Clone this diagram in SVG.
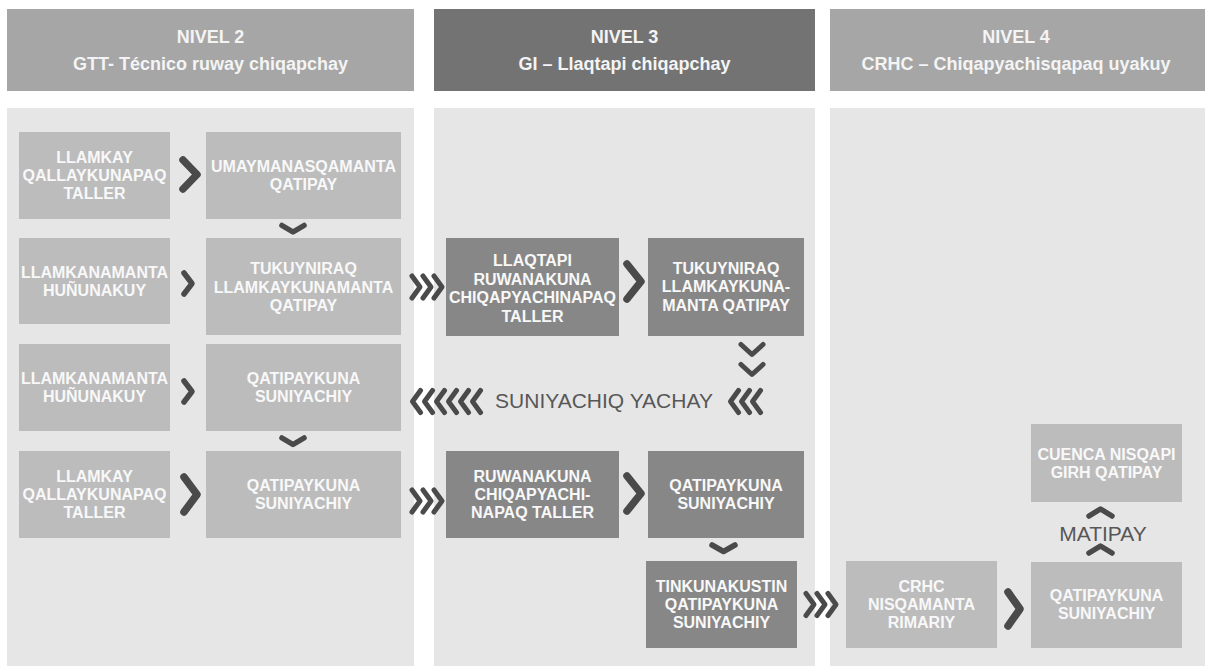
<svg xmlns="http://www.w3.org/2000/svg" width="1205" height="669" viewBox="0 0 1205 669">
<style>
.hdr{fill:#a6a6a6}
.hdr3{fill:#737373}
.pan{fill:#e6e6e6}
.lt{fill:#bcbcbd}
.dk{fill:#878787}
.ht{font-family:"Liberation Sans",Arial,sans-serif;font-weight:bold;font-size:18px;fill:#f4f4f4;text-anchor:middle}
.bt{font-family:"Liberation Sans",Arial,sans-serif;font-weight:bold;font-size:16px;fill:#f8f8f8;text-anchor:middle}
.lab{font-family:"Liberation Sans",Arial,sans-serif;font-size:21px;fill:#575757;text-anchor:middle}
.ch{fill:none;stroke:#4a4a4a;stroke-linecap:round;stroke-linejoin:round}
.s5{stroke-width:5}
.s55{stroke-width:5.5}
.s7{stroke-width:7.5}
</style>
<defs>
<g id="r3" class="ch s5">
<polyline points="0,-11 8,0 0,11"/>
<polyline points="11,-11 19,0 11,11"/>
<polyline points="22,-11 30,0 22,11"/>
</g>
<polyline id="l1" class="ch s5" points="8,-11 0,0 8,11"/>
</defs>

<g id="panels">
<rect class="hdr" x="7" y="9" width="407" height="82"/>
<rect class="hdr3" x="434" y="9" width="381" height="82"/>
<rect class="hdr" x="830" y="9" width="375" height="82"/>
<rect class="pan" x="7" y="108" width="407" height="558"/>
<rect class="pan" x="434" y="108" width="381" height="558"/>
<rect class="pan" x="830" y="108" width="375" height="558"/>
<text class="ht" x="210.5" y="43">NIVEL 2</text>
<text class="ht" x="210.5" y="70">GTT- Técnico ruway chiqapchay</text>
<text class="ht" x="624.5" y="43">NIVEL 3</text>
<text class="ht" x="624.5" y="70">GI – Llaqtapi chiqapchay</text>
<text class="ht" x="1016" y="43">NIVEL 4</text>
<text class="ht" x="1016" y="70">CRHC – Chiqapyachisqapaq uyakuy</text>
</g>

<g id="n1"><rect class="lt" x="19" y="132" width="151" height="87"/>
<text class="bt" x="94.5"><tspan x="94.5" y="163">LLAMKAY</tspan><tspan x="94.5" y="181">QALLAYKUNAPAQ</tspan><tspan x="94.5" y="199">TALLER</tspan></text></g>
<g id="n2"><rect class="lt" x="206" y="132" width="195" height="87"/>
<text class="bt"><tspan x="303.5" y="172">UMAYMANASQAMANTA</tspan><tspan x="303.5" y="190">QATIPAY</tspan></text></g>
<g id="n3"><rect class="lt" x="19" y="238" width="151" height="86"/>
<text class="bt"><tspan x="94.5" y="278">LLAMKANAMANTA</tspan><tspan x="94.5" y="296">HUÑUNAKUY</tspan></text></g>
<g id="n4"><rect class="lt" x="206" y="238" width="195" height="97"/>
<text class="bt"><tspan x="303.5" y="274">TUKUYNIRAQ</tspan><tspan x="303.5" y="292.5">LLAMKAYKUNAMANTA</tspan><tspan x="303.5" y="311">QATIPAY</tspan></text></g>
<g id="n5"><rect class="lt" x="19" y="344" width="151" height="87"/>
<text class="bt"><tspan x="94.5" y="384">LLAMKANAMANTA</tspan><tspan x="94.5" y="402">HUÑUNAKUY</tspan></text></g>
<g id="n6"><rect class="lt" x="206" y="344" width="195" height="87"/>
<text class="bt"><tspan x="303.5" y="384">QATIPAYKUNA</tspan><tspan x="303.5" y="402">SUNIYACHIY</tspan></text></g>
<g id="n7"><rect class="lt" x="19" y="451" width="151" height="87"/>
<text class="bt"><tspan x="94.5" y="482">LLAMKAY</tspan><tspan x="94.5" y="500">QALLAYKUNAPAQ</tspan><tspan x="94.5" y="518">TALLER</tspan></text></g>
<g id="n8"><rect class="lt" x="206" y="451" width="195" height="87"/>
<text class="bt"><tspan x="303.5" y="491">QATIPAYKUNA</tspan><tspan x="303.5" y="509">SUNIYACHIY</tspan></text></g>

<g id="n9"><rect class="dk" x="446" y="238" width="173" height="98"/>
<text class="bt"><tspan x="532.5" y="266">LLAQTAPI</tspan><tspan x="532.5" y="284.5">RUWANAKUNA</tspan><tspan x="532.5" y="303">CHIQAPYACHINAPAQ</tspan><tspan x="532.5" y="321.5">TALLER</tspan></text></g>
<g id="n10"><rect class="dk" x="648" y="238" width="156" height="98"/>
<text class="bt"><tspan x="726" y="273.5">TUKUYNIRAQ</tspan><tspan x="726" y="292">LLAMKAYKUNA-</tspan><tspan x="726" y="310.5">MANTA QATIPAY</tspan></text></g>
<g id="n11"><rect class="dk" x="446" y="451" width="173" height="87"/>
<text class="bt"><tspan x="532.5" y="482">RUWANAKUNA</tspan><tspan x="532.5" y="500">CHIQAPYACHI-</tspan><tspan x="532.5" y="518">NAPAQ TALLER</tspan></text></g>
<g id="n12"><rect class="dk" x="648" y="451" width="156" height="87"/>
<text class="bt"><tspan x="726" y="491">QATIPAYKUNA</tspan><tspan x="726" y="509">SUNIYACHIY</tspan></text></g>
<g id="n13"><rect class="dk" x="646" y="561" width="151" height="87"/>
<text class="bt"><tspan x="721.5" y="592">TINKUNAKUSTIN</tspan><tspan x="721.5" y="610">QATIPAYKUNA</tspan><tspan x="721.5" y="628">SUNIYACHIY</tspan></text></g>

<g id="n14"><rect class="lt" x="846" y="561" width="151" height="87"/>
<text class="bt"><tspan x="921.5" y="592">CRHC</tspan><tspan x="921.5" y="610">NISQAMANTA</tspan><tspan x="921.5" y="628">RIMARIY</tspan></text></g>
<g id="n15"><rect class="lt" x="1031" y="562" width="151" height="86"/>
<text class="bt"><tspan x="1106.5" y="601">QATIPAYKUNA</tspan><tspan x="1106.5" y="619">SUNIYACHIY</tspan></text></g>
<g id="n16"><rect class="lt" x="1031" y="424" width="151" height="78"/>
<text class="bt"><tspan x="1106.5" y="460">CUENCA NISQAPI</tspan><tspan x="1106.5" y="478">GIRH QATIPAY</tspan></text></g>

<g id="connectors">
<polyline class="ch s7" points="183,160 197,174.5 183,189"/>
<polyline class="ch s55" points="184,273 192,283.5 184,294"/>
<polyline class="ch s55" points="184,381 192,391.5 184,402"/>
<polyline class="ch s7" points="184,477 197,494.5 184,512"/>
<polyline class="ch s55" points="282,225.5 293,232 304,225.5"/>
<polyline class="ch s55" points="282,438 293,444.5 304,438"/>
<use href="#r3" x="412" y="287"/>
<use href="#r3" x="412" y="501"/>
<use href="#r3" x="806" y="604.5"/>
<polyline class="ch s7" points="627,264 641,281.5 627,299"/>
<polyline class="ch s7" points="627,476 641,493.5 627,511"/>
<polyline class="ch s55" points="712,545 723.5,551.5 735,545"/>
<polyline class="ch s5" points="741,344.5 752,354.5 763,344.5"/>
<polyline class="ch s5" points="741,364.5 752,374.5 763,364.5"/>
<use href="#l1" x="412.5" y="401.5"/>
<use href="#l1" x="424.5" y="401.5"/>
<use href="#l1" x="436.5" y="401.5"/>
<use href="#l1" x="448.5" y="401.5"/>
<use href="#l1" x="460.5" y="401.5"/>
<use href="#l1" x="472.5" y="401.5"/>
<use href="#l1" x="730.5" y="401.5"/>
<use href="#l1" x="741.5" y="401.5"/>
<use href="#l1" x="752.5" y="401.5"/>
<text class="lab" x="604" y="408">SUNIYACHIQ YACHAY</text>
<polyline class="ch s7" points="1008,592 1020,609 1008,626"/>
<polyline class="ch s55" points="1089,516 1100.5,509 1112,516"/>
<polyline class="ch s55" points="1089,553 1100.5,546 1112,553"/>
<text class="lab" x="1103" y="541">MATIPAY</text>
</g>
</svg>
